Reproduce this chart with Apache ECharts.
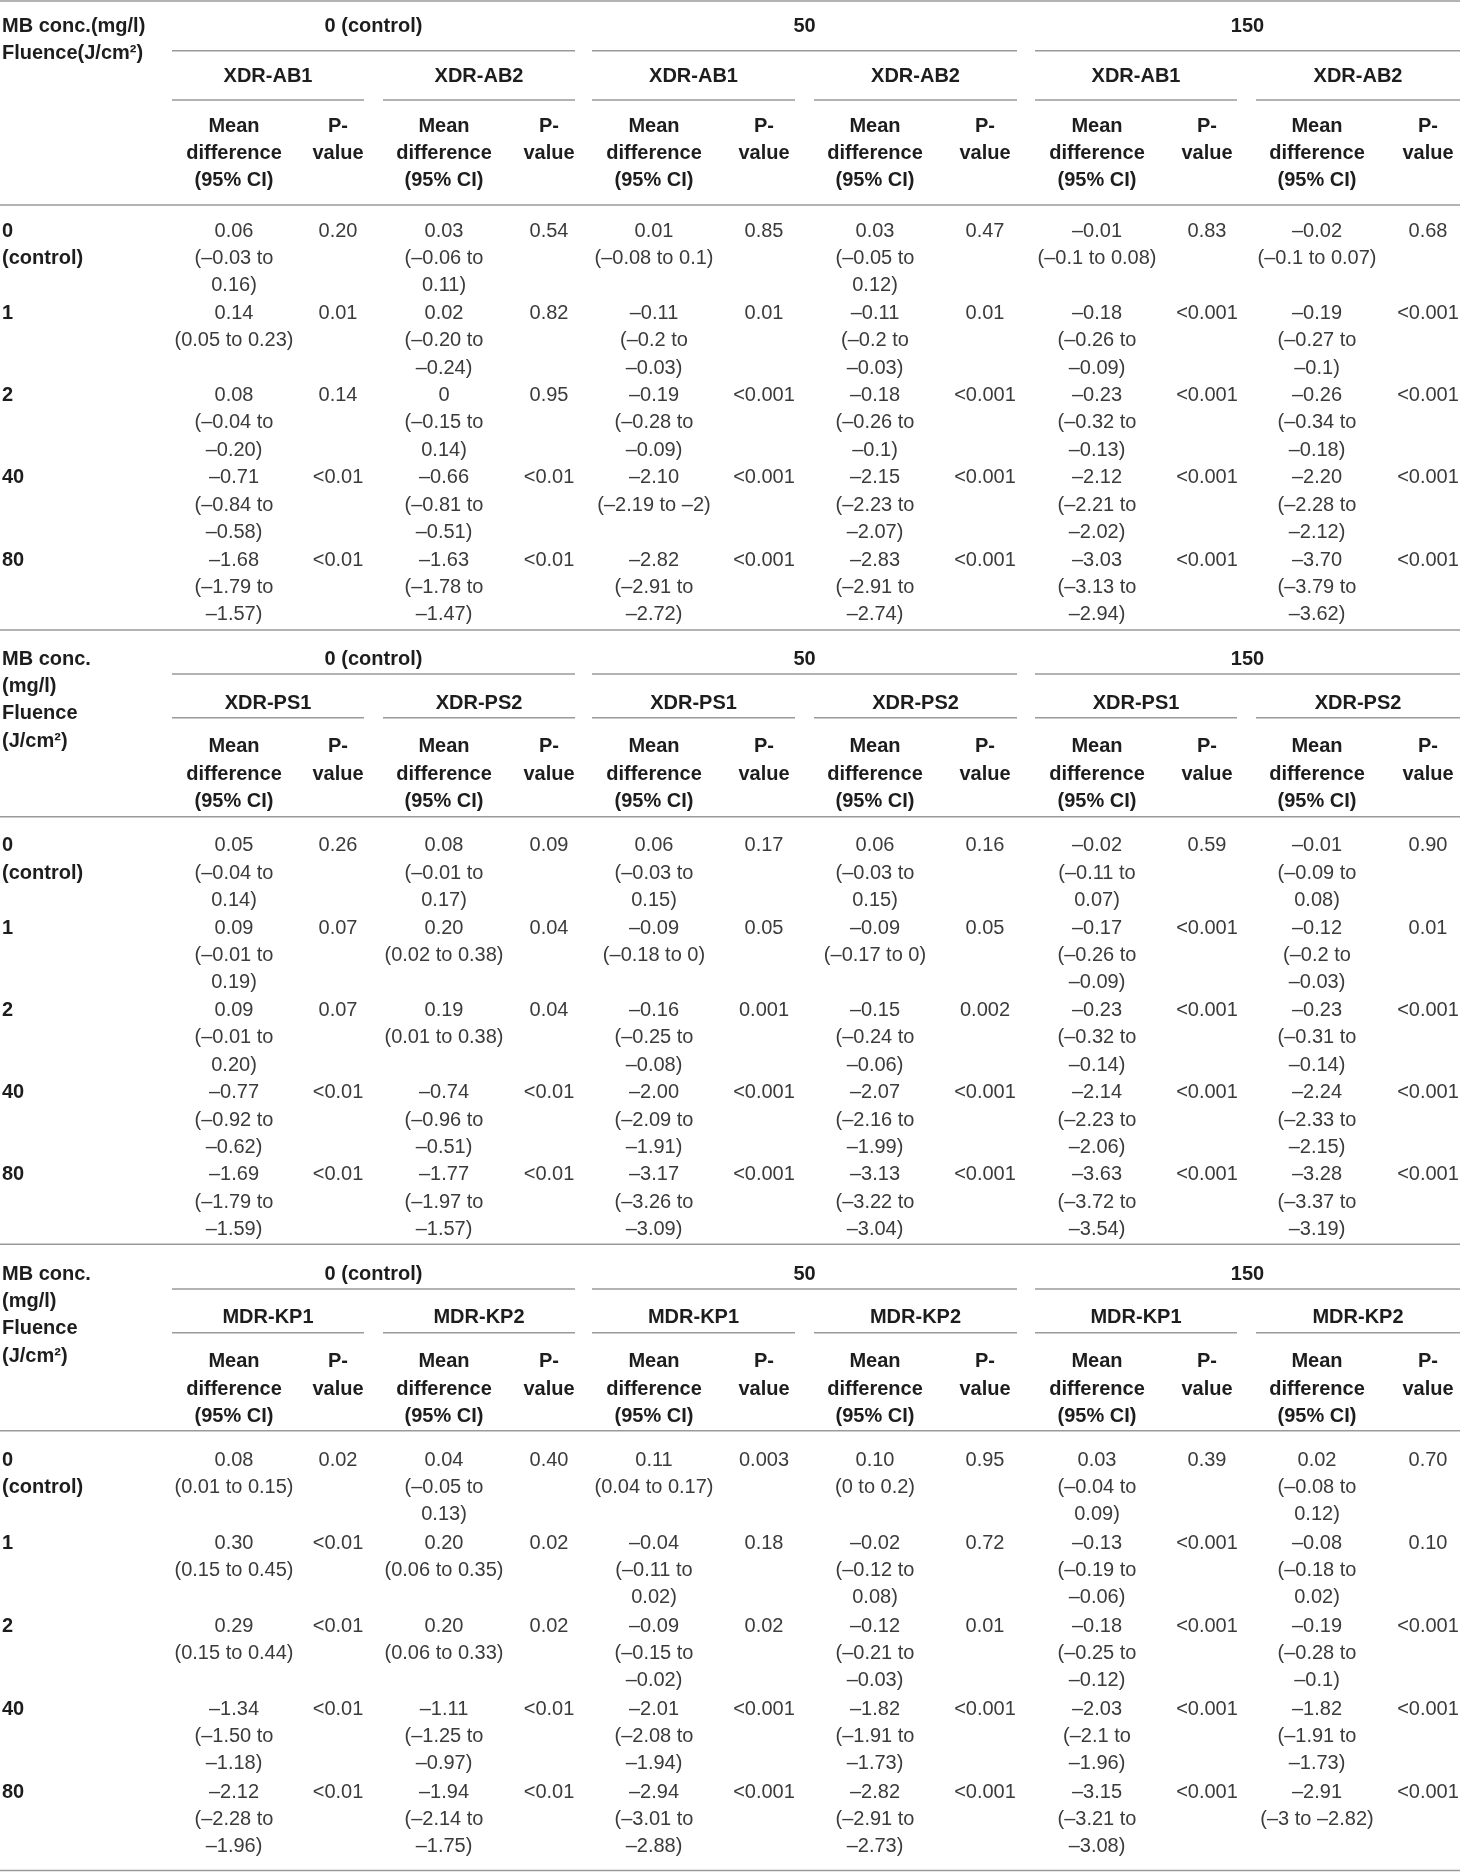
<!DOCTYPE html>
<html>
<head>
<meta charset="utf-8">
<script src="https://cdn.jsdelivr.net/npm/echarts@6/dist/echarts.min.js"></script>
<style>
  html, body { margin: 0; padding: 0; background: #fff; }
  #main { width: 1460px; height: 1872px; }
</style>
</head>
<body>
<div id="main"></div>
<script>
// ---- table text ----
const concGroups = ['0 (control)', '50', '150'];
const fluence = ['0\n(control)', '1', '2', '40', '80'];
const headMean = 'Mean\ndifference\n(95% CI)';
const headP = 'P-\nvalue';

// columns per row: conc 0 (strain1, strain2), conc 50 (s1, s2), conc 150 (s1, s2)
const abStrains = ['XDR-AB1', 'XDR-AB2'];
const abMean = [
  ['0.06', '0.03', '0.01', '0.03', '–0.01', '–0.02'],
  ['0.14', '0.02', '–0.11', '–0.11', '–0.18', '–0.19'],
  ['0.08', '0', '–0.19', '–0.18', '–0.23', '–0.26'],
  ['–0.71', '–0.66', '–2.10', '–2.15', '–2.12', '–2.20'],
  ['–1.68', '–1.63', '–2.82', '–2.83', '–3.03', '–3.70']
];
const abCI = [
  ['(–0.03 to 0.16)', '(–0.06 to 0.11)', '(–0.08 to 0.1)', '(–0.05 to 0.12)', '(–0.1 to 0.08)', '(–0.1 to 0.07)'],
  ['(0.05 to 0.23)', '(–0.20 to –0.24)', '(–0.2 to –0.03)', '(–0.2 to –0.03)', '(–0.26 to –0.09)', '(–0.27 to –0.1)'],
  ['(–0.04 to –0.20)', '(–0.15 to 0.14)', '(–0.28 to –0.09)', '(–0.26 to –0.1)', '(–0.32 to –0.13)', '(–0.34 to –0.18)'],
  ['(–0.84 to –0.58)', '(–0.81 to –0.51)', '(–2.19 to –2)', '(–2.23 to –2.07)', '(–2.21 to –2.02)', '(–2.28 to –2.12)'],
  ['(–1.79 to –1.57)', '(–1.78 to –1.47)', '(–2.91 to –2.72)', '(–2.91 to –2.74)', '(–3.13 to –2.94)', '(–3.79 to –3.62)']
];
const abP = [
  ['0.20', '0.54', '0.85', '0.47', '0.83', '0.68'],
  ['0.01', '0.82', '0.01', '0.01', '<0.001', '<0.001'],
  ['0.14', '0.95', '<0.001', '<0.001', '<0.001', '<0.001'],
  ['<0.01', '<0.01', '<0.001', '<0.001', '<0.001', '<0.001'],
  ['<0.01', '<0.01', '<0.001', '<0.001', '<0.001', '<0.001']
];

const psStrains = ['XDR-PS1', 'XDR-PS2'];
const psMean = [
  ['0.05', '0.08', '0.06', '0.06', '–0.02', '–0.01'],
  ['0.09', '0.20', '–0.09', '–0.09', '–0.17', '–0.12'],
  ['0.09', '0.19', '–0.16', '–0.15', '–0.23', '–0.23'],
  ['–0.77', '–0.74', '–2.00', '–2.07', '–2.14', '–2.24'],
  ['–1.69', '–1.77', '–3.17', '–3.13', '–3.63', '–3.28']
];
const psCI = [
  ['(–0.04 to 0.14)', '(–0.01 to 0.17)', '(–0.03 to 0.15)', '(–0.03 to 0.15)', '(–0.11 to 0.07)', '(–0.09 to 0.08)'],
  ['(–0.01 to 0.19)', '(0.02 to 0.38)', '(–0.18 to 0)', '(–0.17 to 0)', '(–0.26 to –0.09)', '(–0.2 to –0.03)'],
  ['(–0.01 to 0.20)', '(0.01 to 0.38)', '(–0.25 to –0.08)', '(–0.24 to –0.06)', '(–0.32 to –0.14)', '(–0.31 to –0.14)'],
  ['(–0.92 to –0.62)', '(–0.96 to –0.51)', '(–2.09 to –1.91)', '(–2.16 to –1.99)', '(–2.23 to –2.06)', '(–2.33 to –2.15)'],
  ['(–1.79 to –1.59)', '(–1.97 to –1.57)', '(–3.26 to –3.09)', '(–3.22 to –3.04)', '(–3.72 to –3.54)', '(–3.37 to –3.19)']
];
const psP = [
  ['0.26', '0.09', '0.17', '0.16', '0.59', '0.90'],
  ['0.07', '0.04', '0.05', '0.05', '<0.001', '0.01'],
  ['0.07', '0.04', '0.001', '0.002', '<0.001', '<0.001'],
  ['<0.01', '<0.01', '<0.001', '<0.001', '<0.001', '<0.001'],
  ['<0.01', '<0.01', '<0.001', '<0.001', '<0.001', '<0.001']
];

const kpStrains = ['MDR-KP1', 'MDR-KP2'];
const kpMean = [
  ['0.08', '0.04', '0.11', '0.10', '0.03', '0.02'],
  ['0.30', '0.20', '–0.04', '–0.02', '–0.13', '–0.08'],
  ['0.29', '0.20', '–0.09', '–0.12', '–0.18', '–0.19'],
  ['–1.34', '–1.11', '–2.01', '–1.82', '–2.03', '–1.82'],
  ['–2.12', '–1.94', '–2.94', '–2.82', '–3.15', '–2.91']
];
const kpCI = [
  ['(0.01 to 0.15)', '(–0.05 to 0.13)', '(0.04 to 0.17)', '(0 to 0.2)', '(–0.04 to 0.09)', '(–0.08 to 0.12)'],
  ['(0.15 to 0.45)', '(0.06 to 0.35)', '(–0.11 to 0.02)', '(–0.12 to 0.08)', '(–0.19 to –0.06)', '(–0.18 to 0.02)'],
  ['(0.15 to 0.44)', '(0.06 to 0.33)', '(–0.15 to –0.02)', '(–0.21 to –0.03)', '(–0.25 to –0.12)', '(–0.28 to –0.1)'],
  ['(–1.50 to –1.18)', '(–1.25 to –0.97)', '(–2.08 to –1.94)', '(–1.91 to –1.73)', '(–2.1 to –1.96)', '(–1.91 to –1.73)'],
  ['(–2.28 to –1.96)', '(–2.14 to –1.75)', '(–3.01 to –2.88)', '(–2.91 to –2.73)', '(–3.21 to –3.08)', '(–3 to –2.82)']
];
const kpP = [
  ['0.02', '0.40', '0.003', '0.95', '0.39', '0.70'],
  ['<0.01', '0.02', '0.18', '0.72', '<0.001', '0.10'],
  ['<0.01', '0.02', '0.02', '0.01', '<0.001', '<0.001'],
  ['<0.01', '<0.01', '<0.001', '<0.001', '<0.001', '<0.001'],
  ['<0.01', '<0.01', '<0.001', '<0.001', '<0.001', '<0.001']
];

// ---- layout (page pixels) ----
const W = 1460, H = 1872;
const FONT = '"Liberation Sans", Arial, Helvetica, sans-serif';
const FS = 20, LH = 27.4;
const CELL_W = 126; // mean/CI cell width, longer CIs wrap after "to"
const HEAD_COLOR = '#1d1d1d', BODY_COLOR = '#3b3b3b', RULE_COLOR = '#9a9a9a';
const groupSpans = [[172, 575], [592, 1017], [1035, 1460]];
const subSpans = [[172, 364], [383, 575], [592, 795], [814, 1017], [1035, 1237], [1256, 1460]];
const meanX = [234, 444, 654, 875, 1097, 1317];
const pX = [338, 549, 764, 985, 1207, 1428];

const blocks = [
  { strains: abStrains, mean: abMean, ci: abCI, p: abP,
    head: 'MB conc.(mg/l)\nFluence(J/cm²)', headLH: 26.6,
    top: 1, grpY: 26.7, grpLine: 50.7, subY: 76.7, subLine: 100, colY: 126, headLine: 205,
    row0: 231, pitch: 82.25, end: 630 },
  { strains: psStrains, mean: psMean, ci: psCI, p: psP,
    head: 'MB conc.\n(mg/l)\nFluence\n(J/cm²)', headLH: 27.3,
    top: 630, grpY: 659.3, grpLine: 674, subY: 703.3, subLine: 717.7, colY: 746.7, headLine: 816.7,
    row0: 845.7, pitch: 82.3, end: 1244.3 },
  { strains: kpStrains, mean: kpMean, ci: kpCI, p: kpP,
    head: 'MB conc.\n(mg/l)\nFluence\n(J/cm²)', headLH: 27.3,
    top: 1244.3, grpY: 1274.3, grpLine: 1289, subY: 1317.3, subLine: 1332.7, colY: 1361.7, headLine: 1430.7,
    row0: 1460, pitch: 83, end: 1870.5 }
];

// wrap a CI after "to" when it does not fit in the cell
const measureCtx = document.createElement('canvas').getContext('2d');
measureCtx.font = FS + 'px ' + FONT;
function wrapCI(ci) {
  if (measureCtx.measureText(ci).width <= CELL_W) return ci;
  return ci.replace(' to ', ' to\n');
}

// ---- build cells and rules ----
const cells = [];
const rules = [];
function addText(x, firstLineY, text, opt) {
  cells.push(Object.assign({ value: [x, firstLineY], text: text, lh: LH, align: 'center', bold: false }, opt || {}));
}

blocks.forEach(function (b, bi) {
  if (bi === 0) rules.push([0, W, b.top]);
  addText(2, b.grpY, b.head, { align: 'left', bold: true, lh: b.headLH });
  concGroups.forEach(function (g, gi) {
    const s = groupSpans[gi];
    addText((s[0] + s[1]) / 2, b.grpY, g, { bold: true });
    rules.push([s[0], s[1], b.grpLine]);
  });
  subSpans.forEach(function (s, si) {
    addText((s[0] + s[1]) / 2, b.subY, b.strains[si % 2], { bold: true });
    rules.push([s[0], s[1], b.subLine]);
    addText(meanX[si], b.colY, headMean, { bold: true });
    addText(pX[si], b.colY, headP, { bold: true });
  });
  rules.push([0, W, b.headLine]);
  fluence.forEach(function (f, ri) {
    const y = b.row0 + ri * b.pitch;
    addText(2, y, f, { align: 'left', bold: true });
    for (let c = 0; c < 6; c++) {
      addText(meanX[c], y, b.mean[ri][c] + '\n' + wrapCI(b.ci[ri][c]));
      addText(pX[c], y, b.p[ri][c]);
    }
  });
  rules.push([0, W, b.end]);
});

const chart = echarts.init(document.getElementById('main'), null, { renderer: 'canvas' });
chart.setOption({
  animation: false,
  backgroundColor: '#fff',
  grid: { left: 0, right: 0, top: 0, bottom: 0 },
  xAxis: { type: 'value', min: 0, max: W, show: false },
  yAxis: { type: 'value', min: 0, max: H, inverse: true, show: false },
  series: [
    {
      type: 'custom',
      silent: true,
      clip: false,
      data: rules,
      renderItem: function (params, api) {
        const a = api.coord([api.value(0), api.value(2)]);
        const b = api.coord([api.value(1), api.value(2)]);
        return {
          type: 'line',
          shape: { x1: a[0], y1: a[1], x2: b[0], y2: b[1] },
          style: { stroke: RULE_COLOR, lineWidth: 1.5 }
        };
      }
    },
    {
      type: 'custom',
      silent: true,
      clip: false,
      data: cells.map(function (c) { return c.value; }),
      renderItem: function (params, api) {
        const c = cells[params.dataIndex];
        const p = api.coord([api.value(0), api.value(1)]);
        return {
          type: 'text',
          x: p[0],
          y: p[1] - c.lh / 2,
          style: {
            text: c.text,
            fill: c.bold ? HEAD_COLOR : BODY_COLOR,
            fontFamily: FONT,
            fontSize: FS,
            fontWeight: c.bold ? 'bold' : 'normal',
            align: c.align,
            verticalAlign: 'top',
            lineHeight: c.lh
          }
        };
      }
    }
  ]
});
</script>
</body>
</html>
